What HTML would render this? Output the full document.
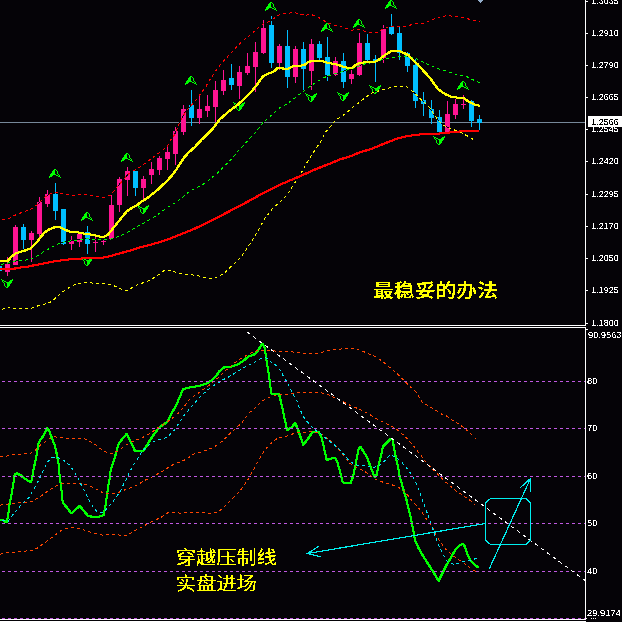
<!DOCTYPE html><html><head><meta charset="utf-8"><title>chart</title><style>
html,body{margin:0;padding:0;background:#050307;}
svg{display:block;}
.ax{font-family:"Liberation Sans",sans-serif;font-size:9.5px;fill:#fff;shape-rendering:auto;}
.cn{font-family:"Liberation Sans","Noto Sans CJK SC",sans-serif;fill:#ffff00;shape-rendering:auto;}
</style></head><body>
<svg width="622" height="622" viewBox="0 0 622 622" shape-rendering="crispEdges">
<rect x="0" y="0" width="622" height="622" fill="#050307"/>
<defs><clipPath id="cm"><rect x="0" y="0" width="585" height="325"/></clipPath><clipPath id="cl"><rect x="0" y="328" width="585" height="291"/></clipPath><filter id="crisp" x="0" y="0" width="622" height="622" filterUnits="userSpaceOnUse" color-interpolation-filters="sRGB"><feComponentTransfer><feFuncA type="discrete" tableValues="0 0 1 1 1"/></feComponentTransfer></filter><filter id="gs" x="0" y="0" width="622" height="622" filterUnits="userSpaceOnUse" color-interpolation-filters="sRGB"><feComponentTransfer><feFuncA type="discrete" tableValues="0 0 1 1 1"/></feComponentTransfer></filter><filter id="crisp2" x="0" y="0" width="622" height="622" filterUnits="userSpaceOnUse" color-interpolation-filters="sRGB"><feComponentTransfer><feFuncA type="discrete" tableValues="0 1"/></feComponentTransfer></filter></defs>
<g clip-path="url(#cm)">
<rect x="0" y="122" width="585" height="1" fill="#778899"/>
<path d="M7 257h1v19h-1zM5 264h5v8h-5zM15 225h1v40h-1zM13 227h5v38h-5zM31 231h1v31h-1zM29 233h5v7h-5zM39 197h1v41h-1zM37 202h5v32h-5zM47 190h1v17h-1zM45 194h5v10h-5zM71 236h1v14h-1zM69 241h5v3h-5zM79 233h1v14h-1zM77 234h5v8h-5zM95 237h1v15h-1zM93 242h5v1h-5zM103 239h1v6h-1zM101 241h5v1h-5zM111 194h1v45h-1zM109 205h5v34h-5zM119 177h1v35h-1zM117 179h5v26h-5zM127 167h1v29h-1zM125 171h5v9h-5zM143 176h1v23h-1zM141 179h5v9h-5zM151 162h1v22h-1zM149 169h5v6h-5zM159 156h1v19h-1zM157 158h5v12h-5zM167 147h1v23h-1zM165 152h5v7h-5zM175 127h1v38h-1zM173 131h5v23h-5zM183 105h1v30h-1zM181 109h5v23h-5zM199 96h1v28h-1zM197 109h5v9h-5zM207 95h1v22h-1zM205 106h5v5h-5zM215 81h1v41h-1zM213 90h5v17h-5zM223 70h1v25h-1zM221 80h5v11h-5zM239 66h1v33h-1zM237 72h5v14h-5zM247 53h1v22h-1zM245 66h5v7h-5zM255 42h1v50h-1zM253 52h5v15h-5zM263 20h1v34h-1zM261 28h5v25h-5zM279 44h1v26h-1zM277 46h5v17h-5zM295 46h1v37h-1zM293 49h5v28h-5zM311 39h1v51h-1zM309 44h5v27h-5zM335 57h1v19h-1zM333 61h5v14h-5zM351 70h1v14h-1zM349 74h5v5h-5zM359 33h1v43h-1zM357 43h5v32h-5zM383 25h1v38h-1zM381 29h5v29h-5zM447 101h1v31h-1zM445 114h5v18h-5zM455 99h1v20h-1zM453 104h5v11h-5zM463 95h1v14h-1zM461 104h5v1h-5z" fill="#ff1493" shape-rendering="crispEdges"/>
<path d="M-1 264h1v9h-1zM-3 266h5v5h-5zM23 224h1v25h-1zM21 227h5v13h-5zM55 183h1v37h-1zM53 194h5v17h-5zM63 209h1v36h-1zM61 209h5v35h-5zM87 226h1v28h-1zM85 232h5v12h-5zM135 171h1v25h-1zM133 171h5v17h-5zM191 90h1v36h-1zM189 105h5v13h-5zM231 64h1v26h-1zM229 78h5v7h-5zM271 16h1v52h-1zM269 25h5v38h-5zM287 30h1v58h-1zM285 46h5v31h-5zM303 42h1v48h-1zM301 49h5v20h-5zM319 41h1v20h-1zM317 44h5v14h-5zM327 37h1v44h-1zM325 57h5v18h-5zM343 53h1v35h-1zM341 61h5v21h-5zM367 34h1v27h-1zM365 43h5v17h-5zM375 55h1v27h-1zM373 59h5v2h-5zM391 14h1v21h-1zM389 27h5v7h-5zM399 26h1v34h-1zM397 33h5v20h-5zM407 52h1v20h-1zM405 53h5v13h-5zM415 58h1v50h-1zM413 65h5v36h-5zM423 92h1v24h-1zM421 100h5v4h-5zM431 100h1v24h-1zM429 109h5v9h-5zM439 110h1v23h-1zM437 117h5v15h-5zM471 100h1v27h-1zM469 101h5v20h-5zM479 115h1v15h-1zM477 119h5v4h-5z" fill="#00bfff" shape-rendering="crispEdges"/>
<path d="M54 169h2v1h-2zM53 170h2v1h-2zM56 170h1v1h-1zM52 171h3v1h-3zM57 171h1v1h-1zM52 172h3v1h-3zM57 172h1v1h-1zM51 173h4v1h-4zM57 173h1v1h-1zM50 174h6v1h-6zM58 174h1v1h-1zM50 175h3v1h-3zM56 175h2v1h-2zM59 175h1v1h-1zM49 176h3v1h-3zM58 176h2v1h-2zM49 177h1v1h-1zM60 177h1v1h-1zM86 212h2v1h-2zM85 213h2v1h-2zM88 213h1v1h-1zM84 214h3v1h-3zM89 214h1v1h-1zM84 215h3v1h-3zM89 215h1v1h-1zM83 216h4v1h-4zM89 216h1v1h-1zM82 217h6v1h-6zM90 217h1v1h-1zM82 218h3v1h-3zM88 218h2v1h-2zM91 218h1v1h-1zM81 219h3v1h-3zM90 219h2v1h-2zM81 220h1v1h-1zM92 220h1v1h-1zM126 153h2v1h-2zM125 154h2v1h-2zM128 154h1v1h-1zM124 155h3v1h-3zM129 155h1v1h-1zM124 156h3v1h-3zM129 156h1v1h-1zM123 157h4v1h-4zM129 157h1v1h-1zM122 158h6v1h-6zM130 158h1v1h-1zM122 159h3v1h-3zM128 159h2v1h-2zM131 159h1v1h-1zM121 160h3v1h-3zM130 160h2v1h-2zM121 161h1v1h-1zM132 161h1v1h-1zM190 76h2v1h-2zM189 77h2v1h-2zM192 77h1v1h-1zM188 78h3v1h-3zM193 78h1v1h-1zM188 79h3v1h-3zM193 79h1v1h-1zM187 80h4v1h-4zM193 80h1v1h-1zM186 81h6v1h-6zM194 81h1v1h-1zM186 82h3v1h-3zM192 82h2v1h-2zM195 82h1v1h-1zM185 83h3v1h-3zM194 83h2v1h-2zM185 84h1v1h-1zM196 84h1v1h-1zM270 2h2v1h-2zM269 3h2v1h-2zM272 3h1v1h-1zM268 4h3v1h-3zM273 4h1v1h-1zM268 5h3v1h-3zM273 5h1v1h-1zM267 6h4v1h-4zM273 6h1v1h-1zM266 7h6v1h-6zM274 7h1v1h-1zM266 8h3v1h-3zM272 8h2v1h-2zM275 8h1v1h-1zM265 9h3v1h-3zM274 9h2v1h-2zM265 10h1v1h-1zM276 10h1v1h-1zM326 23h2v1h-2zM325 24h2v1h-2zM328 24h1v1h-1zM324 25h3v1h-3zM329 25h1v1h-1zM324 26h3v1h-3zM329 26h1v1h-1zM323 27h4v1h-4zM329 27h1v1h-1zM322 28h6v1h-6zM330 28h1v1h-1zM322 29h3v1h-3zM328 29h2v1h-2zM331 29h1v1h-1zM321 30h3v1h-3zM330 30h2v1h-2zM321 31h1v1h-1zM332 31h1v1h-1zM358 19h2v1h-2zM357 20h2v1h-2zM360 20h1v1h-1zM356 21h3v1h-3zM361 21h1v1h-1zM356 22h3v1h-3zM361 22h1v1h-1zM355 23h4v1h-4zM361 23h1v1h-1zM354 24h6v1h-6zM362 24h1v1h-1zM354 25h3v1h-3zM360 25h2v1h-2zM363 25h1v1h-1zM353 26h3v1h-3zM362 26h2v1h-2zM353 27h1v1h-1zM364 27h1v1h-1zM390 0h2v1h-2zM389 1h2v1h-2zM392 1h1v1h-1zM388 2h3v1h-3zM393 2h1v1h-1zM388 3h3v1h-3zM393 3h1v1h-1zM387 4h4v1h-4zM393 4h1v1h-1zM386 5h6v1h-6zM394 5h1v1h-1zM386 6h3v1h-3zM392 6h2v1h-2zM395 6h1v1h-1zM385 7h3v1h-3zM394 7h2v1h-2zM385 8h1v1h-1zM396 8h1v1h-1zM462 81h2v1h-2zM461 82h2v1h-2zM464 82h1v1h-1zM460 83h3v1h-3zM465 83h1v1h-1zM460 84h3v1h-3zM465 84h1v1h-1zM459 85h4v1h-4zM465 85h1v1h-1zM458 86h6v1h-6zM466 86h1v1h-1zM458 87h3v1h-3zM464 87h2v1h-2zM467 87h1v1h-1zM457 88h3v1h-3zM466 88h2v1h-2zM457 89h1v1h-1zM468 89h1v1h-1zM6 287h2v1h-2zM7 286h2v1h-2zM5 286h1v1h-1zM7 285h3v1h-3zM4 285h1v1h-1zM7 284h3v1h-3zM4 284h1v1h-1zM7 283h4v1h-4zM4 283h1v1h-1zM6 282h6v1h-6zM3 282h1v1h-1zM9 281h3v1h-3zM4 281h2v1h-2zM2 281h1v1h-1zM10 280h3v1h-3zM2 280h2v1h-2zM12 279h1v1h-1zM1 279h1v1h-1zM86 265h2v1h-2zM87 264h2v1h-2zM85 264h1v1h-1zM87 263h3v1h-3zM84 263h1v1h-1zM87 262h3v1h-3zM84 262h1v1h-1zM87 261h4v1h-4zM84 261h1v1h-1zM86 260h6v1h-6zM83 260h1v1h-1zM89 259h3v1h-3zM84 259h2v1h-2zM82 259h1v1h-1zM90 258h3v1h-3zM82 258h2v1h-2zM92 257h1v1h-1zM81 257h1v1h-1zM142 213h2v1h-2zM143 212h2v1h-2zM141 212h1v1h-1zM143 211h3v1h-3zM140 211h1v1h-1zM143 210h3v1h-3zM140 210h1v1h-1zM143 209h4v1h-4zM140 209h1v1h-1zM142 208h6v1h-6zM139 208h1v1h-1zM145 207h3v1h-3zM140 207h2v1h-2zM138 207h1v1h-1zM146 206h3v1h-3zM138 206h2v1h-2zM148 205h1v1h-1zM137 205h1v1h-1zM238 110h2v1h-2zM239 109h2v1h-2zM237 109h1v1h-1zM239 108h3v1h-3zM236 108h1v1h-1zM239 107h3v1h-3zM236 107h1v1h-1zM239 106h4v1h-4zM236 106h1v1h-1zM238 105h6v1h-6zM235 105h1v1h-1zM241 104h3v1h-3zM236 104h2v1h-2zM234 104h1v1h-1zM242 103h3v1h-3zM234 103h2v1h-2zM244 102h1v1h-1zM233 102h1v1h-1zM310 101h2v1h-2zM311 100h2v1h-2zM309 100h1v1h-1zM311 99h3v1h-3zM308 99h1v1h-1zM311 98h3v1h-3zM308 98h1v1h-1zM311 97h4v1h-4zM308 97h1v1h-1zM310 96h6v1h-6zM307 96h1v1h-1zM313 95h3v1h-3zM308 95h2v1h-2zM306 95h1v1h-1zM314 94h3v1h-3zM306 94h2v1h-2zM316 93h1v1h-1zM305 93h1v1h-1zM342 100h2v1h-2zM343 99h2v1h-2zM341 99h1v1h-1zM343 98h3v1h-3zM340 98h1v1h-1zM343 97h3v1h-3zM340 97h1v1h-1zM343 96h4v1h-4zM340 96h1v1h-1zM342 95h6v1h-6zM339 95h1v1h-1zM345 94h3v1h-3zM340 94h2v1h-2zM338 94h1v1h-1zM346 93h3v1h-3zM338 93h2v1h-2zM348 92h1v1h-1zM337 92h1v1h-1zM374 93h2v1h-2zM375 92h2v1h-2zM373 92h1v1h-1zM375 91h3v1h-3zM372 91h1v1h-1zM375 90h3v1h-3zM372 90h1v1h-1zM375 89h4v1h-4zM372 89h1v1h-1zM374 88h6v1h-6zM371 88h1v1h-1zM377 87h3v1h-3zM372 87h2v1h-2zM370 87h1v1h-1zM378 86h3v1h-3zM370 86h2v1h-2zM380 85h1v1h-1zM369 85h1v1h-1zM438 144h2v1h-2zM439 143h2v1h-2zM437 143h1v1h-1zM439 142h3v1h-3zM436 142h1v1h-1zM439 141h3v1h-3zM436 141h1v1h-1zM439 140h4v1h-4zM436 140h1v1h-1zM438 139h6v1h-6zM435 139h1v1h-1zM441 138h3v1h-3zM436 138h2v1h-2zM434 138h1v1h-1zM442 137h3v1h-3zM434 137h2v1h-2zM444 136h1v1h-1zM433 136h1v1h-1z" fill="#00ff00" shape-rendering="crispEdges"/>
<polyline points="2.4,219.4 9.0,218.5 15.4,215.0 21.2,212.7 27.0,210.8 33.2,207.8 38.6,203.7 43.7,198.0 50.2,193.7 56.6,192.4 63.0,194.0 68.8,195.0 74.6,195.0 79.0,194.5 85.2,194.8 92.0,195.6 98.4,196.9 104.1,197.5 110.6,195.0 115.0,189.8 119.6,184.0 124.0,178.9 128.6,173.7 135.0,169.9 141.4,166.0 147.2,161.9 152.6,157.6 160.3,151.8 166.7,147.3 170.0,141.0 174.4,135.0 179.3,123.0 185.7,111.4 192.2,104.4 197.3,98.6 201.2,92.8 205.7,87.0 208.9,81.2 212.7,75.4 216.6,69.6 221.7,63.2 231.3,52.7 238.4,45.0 244.0,40.0 250.0,35.0 256.0,30.0 262.0,24.4 268.6,21.9 274.4,18.0 280.0,14.4 286.6,13.4 293.0,12.6 298.8,13.4 304.6,15.4 310.3,14.4 316.0,16.0 321.9,19.3 327.7,23.0 334.0,25.0 340.0,26.4 346.3,28.3 352.0,30.2 358.5,29.3 364.3,31.1 370.0,32.4 376.5,32.8 382.9,29.0 388.6,27.0 394.4,26.4 400.2,26.4 406.0,26.4 412.4,24.4 418.2,23.4 424.7,23.4 430.5,20.3 436.2,18.3 442.0,16.5 447.8,15.4 453.6,16.4 460.4,17.4 466.5,18.3 472.4,20.4 480.0,21.6" fill="none" stroke="#050307" stroke-width="1"/>
<polyline points="2.4,219.4 9.0,218.5 15.4,215.0 21.2,212.7 27.0,210.8 33.2,207.8 38.6,203.7 43.7,198.0 50.2,193.7 56.6,192.4 63.0,194.0 68.8,195.0 74.6,195.0 79.0,194.5 85.2,194.8 92.0,195.6 98.4,196.9 104.1,197.5 110.6,195.0 115.0,189.8 119.6,184.0 124.0,178.9 128.6,173.7 135.0,169.9 141.4,166.0 147.2,161.9 152.6,157.6 160.3,151.8 166.7,147.3 170.0,141.0 174.4,135.0 179.3,123.0 185.7,111.4 192.2,104.4 197.3,98.6 201.2,92.8 205.7,87.0 208.9,81.2 212.7,75.4 216.6,69.6 221.7,63.2 231.3,52.7 238.4,45.0 244.0,40.0 250.0,35.0 256.0,30.0 262.0,24.4 268.6,21.9 274.4,18.0 280.0,14.4 286.6,13.4 293.0,12.6 298.8,13.4 304.6,15.4 310.3,14.4 316.0,16.0 321.9,19.3 327.7,23.0 334.0,25.0 340.0,26.4 346.3,28.3 352.0,30.2 358.5,29.3 364.3,31.1 370.0,32.4 376.5,32.8 382.9,29.0 388.6,27.0 394.4,26.4 400.2,26.4 406.0,26.4 412.4,24.4 418.2,23.4 424.7,23.4 430.5,20.3 436.2,18.3 442.0,16.5 447.8,15.4 453.6,16.4 460.4,17.4 466.5,18.3 472.4,20.4 480.0,21.6" fill="none" stroke="#ff0000" stroke-width="1" stroke-dasharray="3 3"/>
<polyline points="1.9,309.5 8.4,307.0 14.1,308.2 20.6,308.2 26.4,308.2 32.2,308.0 38.6,305.6 44.4,304.3 50.2,302.4 56.6,297.2 62.4,292.0 68.2,288.2 74.0,285.0 80.0,283.3 86.4,282.4 92.2,283.0 98.0,283.3 104.4,283.7 110.2,284.3 116.7,286.9 122.4,289.5 128.2,290.5 134.0,286.2 140.5,283.7 146.2,281.7 152.0,279.0 157.8,275.3 164.0,270.7 170.5,270.4 176.0,272.3 182.5,274.0 189.0,274.3 194.6,275.2 201.0,276.4 206.6,278.0 213.0,279.1 218.7,276.4 224.3,273.2 230.0,267.5 236.4,261.9 241.2,256.6 245.2,251.1 249.2,245.0 253.2,238.6 257.3,232.2 264.5,218.9 268.5,214.0 272.5,208.4 278.1,203.6 283.8,198.8 288.6,192.3 292.6,186.2 296.6,180.3 300.6,173.9 303.9,168.2 307.0,162.6 311.0,156.2 315.1,149.7 319.1,144.1 322.3,138.5 325.7,132.0 330.2,126.9 335.4,120.5 341.2,116.6 347.6,112.0 353.4,106.6 359.2,102.4 365.6,97.3 371.4,93.2 377.0,91.5 385.0,89.0 392.0,87.2 400.0,86.4 407.0,87.0 412.9,91.5 418.6,97.3 425.0,103.0 430.2,108.4 434.4,115.2 438.6,120.7 443.6,125.0 449.5,128.4 456.0,130.5 462.6,133.4 468.1,136.4 474.4,140.1 476.5,141.4" fill="none" stroke="#050307" stroke-width="1"/>
<polyline points="1.9,309.5 8.4,307.0 14.1,308.2 20.6,308.2 26.4,308.2 32.2,308.0 38.6,305.6 44.4,304.3 50.2,302.4 56.6,297.2 62.4,292.0 68.2,288.2 74.0,285.0 80.0,283.3 86.4,282.4 92.2,283.0 98.0,283.3 104.4,283.7 110.2,284.3 116.7,286.9 122.4,289.5 128.2,290.5 134.0,286.2 140.5,283.7 146.2,281.7 152.0,279.0 157.8,275.3 164.0,270.7 170.5,270.4 176.0,272.3 182.5,274.0 189.0,274.3 194.6,275.2 201.0,276.4 206.6,278.0 213.0,279.1 218.7,276.4 224.3,273.2 230.0,267.5 236.4,261.9 241.2,256.6 245.2,251.1 249.2,245.0 253.2,238.6 257.3,232.2 264.5,218.9 268.5,214.0 272.5,208.4 278.1,203.6 283.8,198.8 288.6,192.3 292.6,186.2 296.6,180.3 300.6,173.9 303.9,168.2 307.0,162.6 311.0,156.2 315.1,149.7 319.1,144.1 322.3,138.5 325.7,132.0 330.2,126.9 335.4,120.5 341.2,116.6 347.6,112.0 353.4,106.6 359.2,102.4 365.6,97.3 371.4,93.2 377.0,91.5 385.0,89.0 392.0,87.2 400.0,86.4 407.0,87.0 412.9,91.5 418.6,97.3 425.0,103.0 430.2,108.4 434.4,115.2 438.6,120.7 443.6,125.0 449.5,128.4 456.0,130.5 462.6,133.4 468.1,136.4 474.4,140.1 476.5,141.4" fill="none" stroke="#ffff00" stroke-width="1" stroke-dasharray="3 3"/>
<polyline points="1.3,264.4 8.4,263.0 14.1,261.2 20.6,260.3 26.4,260.0 32.2,258.6 38.0,255.4 44.4,251.3 50.2,248.0 55.9,245.0 62.4,242.3 67.5,241.3 74.6,240.6 80.0,239.3 86.4,238.6 91.6,239.3 98.0,239.5 104.4,240.0 110.2,239.3 116.7,237.0 122.4,234.8 128.2,231.8 134.0,228.4 140.9,224.6 146.7,221.4 152.4,218.2 158.2,214.3 164.0,209.8 170.3,205.7 176.0,202.4 182.5,197.3 188.3,192.2 194.7,188.6 200.5,185.7 206.3,182.5 212.0,177.4 218.5,172.2 224.3,166.4 230.0,160.6 240.0,149.0 251.0,137.0 257.0,130.7 262.0,123.7 267.3,118.5 273.7,113.4 279.5,108.0 285.3,105.0 291.0,100.9 297.5,95.8 303.3,91.5 309.0,87.0 315.4,82.9 321.2,79.0 327.7,76.0 334.0,74.0 339.9,72.5 345.7,70.5 351.4,68.8 356.6,66.9 363.0,64.3 369.5,63.0 375.0,62.0 384.0,59.0 389.3,58.1 394.4,57.2 400.2,56.6 406.0,56.6 411.8,57.2 417.6,59.2 423.4,62.4 429.2,65.0 435.6,67.5 441.4,70.0 447.2,71.3 453.5,73.6 459.3,74.9 465.6,76.0 471.3,79.0 477.6,81.8 480.0,82.5" fill="none" stroke="#050307" stroke-width="1"/>
<polyline points="1.3,264.4 8.4,263.0 14.1,261.2 20.6,260.3 26.4,260.0 32.2,258.6 38.0,255.4 44.4,251.3 50.2,248.0 55.9,245.0 62.4,242.3 67.5,241.3 74.6,240.6 80.0,239.3 86.4,238.6 91.6,239.3 98.0,239.5 104.4,240.0 110.2,239.3 116.7,237.0 122.4,234.8 128.2,231.8 134.0,228.4 140.9,224.6 146.7,221.4 152.4,218.2 158.2,214.3 164.0,209.8 170.3,205.7 176.0,202.4 182.5,197.3 188.3,192.2 194.7,188.6 200.5,185.7 206.3,182.5 212.0,177.4 218.5,172.2 224.3,166.4 230.0,160.6 240.0,149.0 251.0,137.0 257.0,130.7 262.0,123.7 267.3,118.5 273.7,113.4 279.5,108.0 285.3,105.0 291.0,100.9 297.5,95.8 303.3,91.5 309.0,87.0 315.4,82.9 321.2,79.0 327.7,76.0 334.0,74.0 339.9,72.5 345.7,70.5 351.4,68.8 356.6,66.9 363.0,64.3 369.5,63.0 375.0,62.0 384.0,59.0 389.3,58.1 394.4,57.2 400.2,56.6 406.0,56.6 411.8,57.2 417.6,59.2 423.4,62.4 429.2,65.0 435.6,67.5 441.4,70.0 447.2,71.3 453.5,73.6 459.3,74.9 465.6,76.0 471.3,79.0 477.6,81.8 480.0,82.5" fill="none" stroke="#00ff00" stroke-width="1" stroke-dasharray="3 3"/>
<g fill="none" stroke="#ff0000" stroke-width="1" stroke-linejoin="round"><polyline transform="translate(-0.5,-0.5)" points="0.0,269.0 14.0,269.0 16.0,268.0 25.7,267.0 32.0,265.7 38.6,264.4 46.3,262.9 55.3,261.2 64.3,260.0 72.0,259.0 80.0,258.6 87.7,258.0 103.0,257.6 110.9,256.0 118.6,253.7 128.9,250.9 139.2,247.7 149.5,245.0 160.0,242.0 167.7,239.5 176.0,236.2 192.2,229.8 208.2,222.2 224.3,213.9 240.4,205.6 250.0,200.4 262.9,193.2 279.0,185.1 298.2,177.0 314.3,169.8 330.4,163.4 340.0,159.4 349.6,156.6 359.3,152.6 372.2,148.6 381.8,144.6 396.3,138.9 407.5,136.0 420.4,134.4 430.0,133.8 440.0,133.5 447.6,132.7 457.9,131.8 464.0,130.7 479.7,130.5"/><polyline transform="translate(0.5,-0.5)" points="0.0,269.0 14.0,269.0 16.0,268.0 25.7,267.0 32.0,265.7 38.6,264.4 46.3,262.9 55.3,261.2 64.3,260.0 72.0,259.0 80.0,258.6 87.7,258.0 103.0,257.6 110.9,256.0 118.6,253.7 128.9,250.9 139.2,247.7 149.5,245.0 160.0,242.0 167.7,239.5 176.0,236.2 192.2,229.8 208.2,222.2 224.3,213.9 240.4,205.6 250.0,200.4 262.9,193.2 279.0,185.1 298.2,177.0 314.3,169.8 330.4,163.4 340.0,159.4 349.6,156.6 359.3,152.6 372.2,148.6 381.8,144.6 396.3,138.9 407.5,136.0 420.4,134.4 430.0,133.8 440.0,133.5 447.6,132.7 457.9,131.8 464.0,130.7 479.7,130.5"/><polyline transform="translate(-0.5,0.5)" points="0.0,269.0 14.0,269.0 16.0,268.0 25.7,267.0 32.0,265.7 38.6,264.4 46.3,262.9 55.3,261.2 64.3,260.0 72.0,259.0 80.0,258.6 87.7,258.0 103.0,257.6 110.9,256.0 118.6,253.7 128.9,250.9 139.2,247.7 149.5,245.0 160.0,242.0 167.7,239.5 176.0,236.2 192.2,229.8 208.2,222.2 224.3,213.9 240.4,205.6 250.0,200.4 262.9,193.2 279.0,185.1 298.2,177.0 314.3,169.8 330.4,163.4 340.0,159.4 349.6,156.6 359.3,152.6 372.2,148.6 381.8,144.6 396.3,138.9 407.5,136.0 420.4,134.4 430.0,133.8 440.0,133.5 447.6,132.7 457.9,131.8 464.0,130.7 479.7,130.5"/><polyline transform="translate(0.5,0.5)" points="0.0,269.0 14.0,269.0 16.0,268.0 25.7,267.0 32.0,265.7 38.6,264.4 46.3,262.9 55.3,261.2 64.3,260.0 72.0,259.0 80.0,258.6 87.7,258.0 103.0,257.6 110.9,256.0 118.6,253.7 128.9,250.9 139.2,247.7 149.5,245.0 160.0,242.0 167.7,239.5 176.0,236.2 192.2,229.8 208.2,222.2 224.3,213.9 240.4,205.6 250.0,200.4 262.9,193.2 279.0,185.1 298.2,177.0 314.3,169.8 330.4,163.4 340.0,159.4 349.6,156.6 359.3,152.6 372.2,148.6 381.8,144.6 396.3,138.9 407.5,136.0 420.4,134.4 430.0,133.8 440.0,133.5 447.6,132.7 457.9,131.8 464.0,130.7 479.7,130.5"/></g>
<g fill="none" stroke="#ffff00" stroke-width="1" stroke-linejoin="round"><polyline transform="translate(-0.5,-0.5)" points="0.0,260.6 8.0,260.6 11.0,257.2 15.4,253.5 20.6,251.8 25.7,250.3 30.9,248.4 34.7,244.5 38.6,240.0 43.7,233.3 48.9,229.5 55.3,227.0 60.4,227.5 65.6,230.0 70.7,231.8 77.2,232.2 80.0,233.0 87.7,234.1 95.4,235.4 103.0,237.5 107.7,235.0 111.3,230.5 116.4,224.2 121.6,217.5 126.7,211.5 131.9,207.9 137.0,205.3 140.9,202.1 146.0,198.9 151.2,195.0 156.3,191.0 161.4,186.0 166.6,181.5 171.1,176.4 175.6,170.6 180.1,163.5 184.0,157.7 188.5,152.6 195.0,146.8 201.2,140.1 211.7,130.0 219.5,119.6 229.5,110.8 236.4,105.8 242.9,100.0 250.6,92.7 257.0,84.6 262.8,76.5 268.6,73.5 273.7,71.6 277.6,68.0 281.4,67.7 284.0,69.0 289.0,68.4 294.3,65.8 304.0,65.4 308.5,62.0 311.6,61.0 316.7,60.5 321.9,61.0 327.7,63.0 333.4,63.7 338.6,65.0 343.7,66.9 349.5,68.2 352.7,67.5 357.2,63.7 364.3,62.4 369.5,61.7 374.6,61.8 378.5,60.0 385.4,54.8 390.6,51.4 395.7,50.8 400.2,51.4 404.7,53.4 408.6,55.3 412.4,59.2 417.6,64.3 424.0,71.4 430.5,78.5 437.3,88.3 441.2,91.5 446.3,94.7 451.4,96.7 456.6,97.6 463.0,97.6 466.9,100.5 471.4,103.0 475.9,105.0 479.7,105.7"/><polyline transform="translate(0.5,-0.5)" points="0.0,260.6 8.0,260.6 11.0,257.2 15.4,253.5 20.6,251.8 25.7,250.3 30.9,248.4 34.7,244.5 38.6,240.0 43.7,233.3 48.9,229.5 55.3,227.0 60.4,227.5 65.6,230.0 70.7,231.8 77.2,232.2 80.0,233.0 87.7,234.1 95.4,235.4 103.0,237.5 107.7,235.0 111.3,230.5 116.4,224.2 121.6,217.5 126.7,211.5 131.9,207.9 137.0,205.3 140.9,202.1 146.0,198.9 151.2,195.0 156.3,191.0 161.4,186.0 166.6,181.5 171.1,176.4 175.6,170.6 180.1,163.5 184.0,157.7 188.5,152.6 195.0,146.8 201.2,140.1 211.7,130.0 219.5,119.6 229.5,110.8 236.4,105.8 242.9,100.0 250.6,92.7 257.0,84.6 262.8,76.5 268.6,73.5 273.7,71.6 277.6,68.0 281.4,67.7 284.0,69.0 289.0,68.4 294.3,65.8 304.0,65.4 308.5,62.0 311.6,61.0 316.7,60.5 321.9,61.0 327.7,63.0 333.4,63.7 338.6,65.0 343.7,66.9 349.5,68.2 352.7,67.5 357.2,63.7 364.3,62.4 369.5,61.7 374.6,61.8 378.5,60.0 385.4,54.8 390.6,51.4 395.7,50.8 400.2,51.4 404.7,53.4 408.6,55.3 412.4,59.2 417.6,64.3 424.0,71.4 430.5,78.5 437.3,88.3 441.2,91.5 446.3,94.7 451.4,96.7 456.6,97.6 463.0,97.6 466.9,100.5 471.4,103.0 475.9,105.0 479.7,105.7"/><polyline transform="translate(-0.5,0.5)" points="0.0,260.6 8.0,260.6 11.0,257.2 15.4,253.5 20.6,251.8 25.7,250.3 30.9,248.4 34.7,244.5 38.6,240.0 43.7,233.3 48.9,229.5 55.3,227.0 60.4,227.5 65.6,230.0 70.7,231.8 77.2,232.2 80.0,233.0 87.7,234.1 95.4,235.4 103.0,237.5 107.7,235.0 111.3,230.5 116.4,224.2 121.6,217.5 126.7,211.5 131.9,207.9 137.0,205.3 140.9,202.1 146.0,198.9 151.2,195.0 156.3,191.0 161.4,186.0 166.6,181.5 171.1,176.4 175.6,170.6 180.1,163.5 184.0,157.7 188.5,152.6 195.0,146.8 201.2,140.1 211.7,130.0 219.5,119.6 229.5,110.8 236.4,105.8 242.9,100.0 250.6,92.7 257.0,84.6 262.8,76.5 268.6,73.5 273.7,71.6 277.6,68.0 281.4,67.7 284.0,69.0 289.0,68.4 294.3,65.8 304.0,65.4 308.5,62.0 311.6,61.0 316.7,60.5 321.9,61.0 327.7,63.0 333.4,63.7 338.6,65.0 343.7,66.9 349.5,68.2 352.7,67.5 357.2,63.7 364.3,62.4 369.5,61.7 374.6,61.8 378.5,60.0 385.4,54.8 390.6,51.4 395.7,50.8 400.2,51.4 404.7,53.4 408.6,55.3 412.4,59.2 417.6,64.3 424.0,71.4 430.5,78.5 437.3,88.3 441.2,91.5 446.3,94.7 451.4,96.7 456.6,97.6 463.0,97.6 466.9,100.5 471.4,103.0 475.9,105.0 479.7,105.7"/><polyline transform="translate(0.5,0.5)" points="0.0,260.6 8.0,260.6 11.0,257.2 15.4,253.5 20.6,251.8 25.7,250.3 30.9,248.4 34.7,244.5 38.6,240.0 43.7,233.3 48.9,229.5 55.3,227.0 60.4,227.5 65.6,230.0 70.7,231.8 77.2,232.2 80.0,233.0 87.7,234.1 95.4,235.4 103.0,237.5 107.7,235.0 111.3,230.5 116.4,224.2 121.6,217.5 126.7,211.5 131.9,207.9 137.0,205.3 140.9,202.1 146.0,198.9 151.2,195.0 156.3,191.0 161.4,186.0 166.6,181.5 171.1,176.4 175.6,170.6 180.1,163.5 184.0,157.7 188.5,152.6 195.0,146.8 201.2,140.1 211.7,130.0 219.5,119.6 229.5,110.8 236.4,105.8 242.9,100.0 250.6,92.7 257.0,84.6 262.8,76.5 268.6,73.5 273.7,71.6 277.6,68.0 281.4,67.7 284.0,69.0 289.0,68.4 294.3,65.8 304.0,65.4 308.5,62.0 311.6,61.0 316.7,60.5 321.9,61.0 327.7,63.0 333.4,63.7 338.6,65.0 343.7,66.9 349.5,68.2 352.7,67.5 357.2,63.7 364.3,62.4 369.5,61.7 374.6,61.8 378.5,60.0 385.4,54.8 390.6,51.4 395.7,50.8 400.2,51.4 404.7,53.4 408.6,55.3 412.4,59.2 417.6,64.3 424.0,71.4 430.5,78.5 437.3,88.3 441.2,91.5 446.3,94.7 451.4,96.7 456.6,97.6 463.0,97.6 466.9,100.5 471.4,103.0 475.9,105.0 479.7,105.7"/></g>
<polygon points="478,0 483.5,0 480.7,3.2" fill="#94aecb"/>
</g>
<g clip-path="url(#cl)">
<g fill="none" stroke="#00ff00" stroke-width="1" stroke-linejoin="round"><polyline transform="translate(-0.5,-0.5)" points="0.0,519.4 3.2,520.2 6.4,522.6 8.0,517.0 9.6,504.0 11.3,496.0 12.9,486.4 14.8,474.0 16.7,473.4 20.6,475.3 25.7,479.2 30.9,482.4 32.2,479.2 32.8,472.7 35.4,461.0 37.9,447.7 38.6,442.5 43.7,435.4 46.9,428.4 48.9,430.3 51.4,436.7 55.3,447.0 56.6,453.4 58.5,463.7 59.8,477.9 61.1,486.4 62.7,502.5 66.7,507.3 71.5,513.8 79.6,505.7 87.6,515.4 91.6,516.7 94.8,517.0 99.6,516.6 103.7,515.0 105.3,507.0 106.9,495.7 108.5,484.5 110.1,476.4 110.6,470.7 114.7,457.9 117.0,449.8 118.7,443.4 126.7,433.8 130.7,441.8 134.8,450.6 141.2,451.1 143.6,450.6 150.0,440.2 154.9,433.0 159.7,427.0 164.5,423.9 167.7,421.4 171.7,413.4 176.5,404.6 183.0,389.3 187.0,388.0 192.6,386.9 199.0,386.1 203.0,384.8 207.9,382.9 211.9,380.0 215.9,376.4 219.6,371.0 224.5,367.0 229.3,367.0 234.1,365.7 238.9,363.8 243.8,360.5 248.6,356.5 253.4,354.9 256.6,352.5 259.8,347.7 262.5,343.5 264.7,347.7 266.3,358.9 268.7,373.4 270.3,385.5 271.1,393.5 277.5,394.0 279.1,394.3 280.7,400.7 283.2,412.0 285.6,423.2 287.2,430.0 291.3,427.7 295.3,422.9 298.5,430.9 300.9,438.1 303.3,444.6 307.3,439.7 312.2,432.5 318.6,431.7 321.0,435.7 323.4,445.4 326.6,459.8 330.6,459.0 334.7,457.4 337.1,461.4 339.5,469.5 342.7,482.3 346.7,483.2 350.7,483.2 353.2,475.9 355.6,464.7 358.8,447.8 360.4,447.0 363.6,451.8 366.8,456.6 369.2,463.1 371.6,469.5 374.8,477.2 376.4,475.6 378.8,464.3 381.3,454.7 382.9,446.6 386.9,442.6 390.9,438.6 392.5,439.4 394.1,448.2 395.7,456.3 398.1,467.5 399.7,476.4 402.2,485.2 404.6,494.0 406.4,499.6 409.6,512.5 412.9,528.6 415.3,541.4 419.3,549.5 424.1,557.5 429.7,566.4 433.8,572.8 438.6,580.8 442.6,572.8 446.6,564.8 451.4,556.7 455.5,549.5 459.5,545.5 462.7,543.9 464.3,545.5 467.5,554.3 470.7,560.7 474.8,564.8 478.8,568.0"/><polyline transform="translate(0.5,-0.5)" points="0.0,519.4 3.2,520.2 6.4,522.6 8.0,517.0 9.6,504.0 11.3,496.0 12.9,486.4 14.8,474.0 16.7,473.4 20.6,475.3 25.7,479.2 30.9,482.4 32.2,479.2 32.8,472.7 35.4,461.0 37.9,447.7 38.6,442.5 43.7,435.4 46.9,428.4 48.9,430.3 51.4,436.7 55.3,447.0 56.6,453.4 58.5,463.7 59.8,477.9 61.1,486.4 62.7,502.5 66.7,507.3 71.5,513.8 79.6,505.7 87.6,515.4 91.6,516.7 94.8,517.0 99.6,516.6 103.7,515.0 105.3,507.0 106.9,495.7 108.5,484.5 110.1,476.4 110.6,470.7 114.7,457.9 117.0,449.8 118.7,443.4 126.7,433.8 130.7,441.8 134.8,450.6 141.2,451.1 143.6,450.6 150.0,440.2 154.9,433.0 159.7,427.0 164.5,423.9 167.7,421.4 171.7,413.4 176.5,404.6 183.0,389.3 187.0,388.0 192.6,386.9 199.0,386.1 203.0,384.8 207.9,382.9 211.9,380.0 215.9,376.4 219.6,371.0 224.5,367.0 229.3,367.0 234.1,365.7 238.9,363.8 243.8,360.5 248.6,356.5 253.4,354.9 256.6,352.5 259.8,347.7 262.5,343.5 264.7,347.7 266.3,358.9 268.7,373.4 270.3,385.5 271.1,393.5 277.5,394.0 279.1,394.3 280.7,400.7 283.2,412.0 285.6,423.2 287.2,430.0 291.3,427.7 295.3,422.9 298.5,430.9 300.9,438.1 303.3,444.6 307.3,439.7 312.2,432.5 318.6,431.7 321.0,435.7 323.4,445.4 326.6,459.8 330.6,459.0 334.7,457.4 337.1,461.4 339.5,469.5 342.7,482.3 346.7,483.2 350.7,483.2 353.2,475.9 355.6,464.7 358.8,447.8 360.4,447.0 363.6,451.8 366.8,456.6 369.2,463.1 371.6,469.5 374.8,477.2 376.4,475.6 378.8,464.3 381.3,454.7 382.9,446.6 386.9,442.6 390.9,438.6 392.5,439.4 394.1,448.2 395.7,456.3 398.1,467.5 399.7,476.4 402.2,485.2 404.6,494.0 406.4,499.6 409.6,512.5 412.9,528.6 415.3,541.4 419.3,549.5 424.1,557.5 429.7,566.4 433.8,572.8 438.6,580.8 442.6,572.8 446.6,564.8 451.4,556.7 455.5,549.5 459.5,545.5 462.7,543.9 464.3,545.5 467.5,554.3 470.7,560.7 474.8,564.8 478.8,568.0"/><polyline transform="translate(-0.5,0.5)" points="0.0,519.4 3.2,520.2 6.4,522.6 8.0,517.0 9.6,504.0 11.3,496.0 12.9,486.4 14.8,474.0 16.7,473.4 20.6,475.3 25.7,479.2 30.9,482.4 32.2,479.2 32.8,472.7 35.4,461.0 37.9,447.7 38.6,442.5 43.7,435.4 46.9,428.4 48.9,430.3 51.4,436.7 55.3,447.0 56.6,453.4 58.5,463.7 59.8,477.9 61.1,486.4 62.7,502.5 66.7,507.3 71.5,513.8 79.6,505.7 87.6,515.4 91.6,516.7 94.8,517.0 99.6,516.6 103.7,515.0 105.3,507.0 106.9,495.7 108.5,484.5 110.1,476.4 110.6,470.7 114.7,457.9 117.0,449.8 118.7,443.4 126.7,433.8 130.7,441.8 134.8,450.6 141.2,451.1 143.6,450.6 150.0,440.2 154.9,433.0 159.7,427.0 164.5,423.9 167.7,421.4 171.7,413.4 176.5,404.6 183.0,389.3 187.0,388.0 192.6,386.9 199.0,386.1 203.0,384.8 207.9,382.9 211.9,380.0 215.9,376.4 219.6,371.0 224.5,367.0 229.3,367.0 234.1,365.7 238.9,363.8 243.8,360.5 248.6,356.5 253.4,354.9 256.6,352.5 259.8,347.7 262.5,343.5 264.7,347.7 266.3,358.9 268.7,373.4 270.3,385.5 271.1,393.5 277.5,394.0 279.1,394.3 280.7,400.7 283.2,412.0 285.6,423.2 287.2,430.0 291.3,427.7 295.3,422.9 298.5,430.9 300.9,438.1 303.3,444.6 307.3,439.7 312.2,432.5 318.6,431.7 321.0,435.7 323.4,445.4 326.6,459.8 330.6,459.0 334.7,457.4 337.1,461.4 339.5,469.5 342.7,482.3 346.7,483.2 350.7,483.2 353.2,475.9 355.6,464.7 358.8,447.8 360.4,447.0 363.6,451.8 366.8,456.6 369.2,463.1 371.6,469.5 374.8,477.2 376.4,475.6 378.8,464.3 381.3,454.7 382.9,446.6 386.9,442.6 390.9,438.6 392.5,439.4 394.1,448.2 395.7,456.3 398.1,467.5 399.7,476.4 402.2,485.2 404.6,494.0 406.4,499.6 409.6,512.5 412.9,528.6 415.3,541.4 419.3,549.5 424.1,557.5 429.7,566.4 433.8,572.8 438.6,580.8 442.6,572.8 446.6,564.8 451.4,556.7 455.5,549.5 459.5,545.5 462.7,543.9 464.3,545.5 467.5,554.3 470.7,560.7 474.8,564.8 478.8,568.0"/><polyline transform="translate(0.5,0.5)" points="0.0,519.4 3.2,520.2 6.4,522.6 8.0,517.0 9.6,504.0 11.3,496.0 12.9,486.4 14.8,474.0 16.7,473.4 20.6,475.3 25.7,479.2 30.9,482.4 32.2,479.2 32.8,472.7 35.4,461.0 37.9,447.7 38.6,442.5 43.7,435.4 46.9,428.4 48.9,430.3 51.4,436.7 55.3,447.0 56.6,453.4 58.5,463.7 59.8,477.9 61.1,486.4 62.7,502.5 66.7,507.3 71.5,513.8 79.6,505.7 87.6,515.4 91.6,516.7 94.8,517.0 99.6,516.6 103.7,515.0 105.3,507.0 106.9,495.7 108.5,484.5 110.1,476.4 110.6,470.7 114.7,457.9 117.0,449.8 118.7,443.4 126.7,433.8 130.7,441.8 134.8,450.6 141.2,451.1 143.6,450.6 150.0,440.2 154.9,433.0 159.7,427.0 164.5,423.9 167.7,421.4 171.7,413.4 176.5,404.6 183.0,389.3 187.0,388.0 192.6,386.9 199.0,386.1 203.0,384.8 207.9,382.9 211.9,380.0 215.9,376.4 219.6,371.0 224.5,367.0 229.3,367.0 234.1,365.7 238.9,363.8 243.8,360.5 248.6,356.5 253.4,354.9 256.6,352.5 259.8,347.7 262.5,343.5 264.7,347.7 266.3,358.9 268.7,373.4 270.3,385.5 271.1,393.5 277.5,394.0 279.1,394.3 280.7,400.7 283.2,412.0 285.6,423.2 287.2,430.0 291.3,427.7 295.3,422.9 298.5,430.9 300.9,438.1 303.3,444.6 307.3,439.7 312.2,432.5 318.6,431.7 321.0,435.7 323.4,445.4 326.6,459.8 330.6,459.0 334.7,457.4 337.1,461.4 339.5,469.5 342.7,482.3 346.7,483.2 350.7,483.2 353.2,475.9 355.6,464.7 358.8,447.8 360.4,447.0 363.6,451.8 366.8,456.6 369.2,463.1 371.6,469.5 374.8,477.2 376.4,475.6 378.8,464.3 381.3,454.7 382.9,446.6 386.9,442.6 390.9,438.6 392.5,439.4 394.1,448.2 395.7,456.3 398.1,467.5 399.7,476.4 402.2,485.2 404.6,494.0 406.4,499.6 409.6,512.5 412.9,528.6 415.3,541.4 419.3,549.5 424.1,557.5 429.7,566.4 433.8,572.8 438.6,580.8 442.6,572.8 446.6,564.8 451.4,556.7 455.5,549.5 459.5,545.5 462.7,543.9 464.3,545.5 467.5,554.3 470.7,560.7 474.8,564.8 478.8,568.0"/></g>
<polyline points="0.0,456.7 5.1,456.7 11.6,454.7 17.4,454.5 23.2,453.7 29.6,453.7 35.4,450.2 41.2,444.4 47.6,440.0 53.4,436.7 59.2,437.4 65.6,438.3 71.4,438.3 79.3,438.6 84.1,438.6 88.9,441.0 94.6,444.2 101.0,449.0 107.4,453.0 113.0,453.0 118.7,450.6 125.1,445.8 131.5,441.8 138.0,439.4 143.6,437.0 150.0,433.6 156.4,428.7 166.0,423.0 173.3,417.4 178.9,412.6 184.6,406.2 189.4,399.7 195.8,394.9 201.4,390.9 207.1,386.9 211.9,382.9 219.6,376.6 226.0,370.2 232.5,364.6 238.9,359.7 244.6,356.5 250.2,353.3 256.6,350.9 261.4,350.0 266.3,350.0 272.7,350.9 279.1,351.2 285.6,351.2 290.4,351.7 296.8,352.5 303.2,353.3 314.5,353.3 320.1,352.8 325.7,351.2 332.2,350.1 338.6,349.3 344.2,348.5 350.6,348.5 356.3,349.3 362.7,351.2 368.3,353.8 374.0,356.0 380.6,360.0 386.4,364.6 392.0,369.4 398.5,375.0 404.1,380.6 409.7,386.3 415.4,391.1 419.4,397.5 422.6,403.2 428.2,405.6 434.7,409.6 440.5,413.6 446.5,416.0 452.2,420.0 458.6,424.1 464.3,428.0 469.7,432.6 476.2,439.4" fill="none" stroke="#ff4500" stroke-width="1" stroke-dasharray="3 3"/>
<polyline points="0.0,505.2 8.0,504.0 14.5,503.3 20.9,502.5 26.5,502.5 33.0,500.9 38.6,497.7 44.2,493.7 49.8,489.6 55.5,486.4 61.9,483.2 67.5,483.2 74.0,483.2 80.4,483.4 85.7,484.4 91.6,486.9 98.0,490.0 104.5,493.8 110.9,494.1 116.5,493.3 122.2,490.9 128.6,488.5 135.0,486.0 140.6,482.9 146.3,479.6 151.9,477.2 157.5,474.0 163.2,470.8 170.9,465.7 176.5,463.2 183.0,460.8 188.6,457.6 194.2,453.9 200.6,452.0 206.3,450.4 212.5,447.8 218.5,444.2 224.1,439.6 229.8,433.7 237.0,427.2 242.5,422.0 246.2,416.8 250.2,412.0 254.2,408.8 259.0,404.0 263.9,399.9 268.7,397.5 274.3,395.9 280.7,394.6 287.2,394.3 293.6,393.5 300.0,392.5 306.4,392.4 313.7,392.4 319.3,392.4 324.9,393.5 331.4,395.9 337.0,399.1 342.6,401.5 349.0,404.8 354.7,407.2 360.3,409.6 366.7,412.8 372.4,416.1 378.8,420.1 385.3,423.3 390.9,425.7 397.3,429.7 403.8,435.4 409.4,441.0 414.2,446.6 419.0,453.0 423.9,459.5 429.5,465.9 434.3,470.7 439.9,476.4 445.6,482.0 451.2,486.8 456.8,491.6 463.3,495.6 469.1,499.6 474.8,504.5" fill="none" stroke="#ff4500" stroke-width="1" stroke-dasharray="3 3"/>
<polyline points="0.0,554.3 6.4,552.7 12.9,552.3 19.3,551.5 25.7,551.0 32.2,550.7 37.0,548.3 42.6,544.3 48.2,540.3 54.7,535.5 61.1,530.6 66.7,528.2 72.3,527.6 78.8,528.2 85.2,530.6 90.4,532.0 96.4,533.5 102.0,535.1 107.7,534.3 114.1,534.6 120.5,535.1 127.0,535.1 132.6,531.9 138.2,528.7 144.7,525.5 150.3,522.3 155.9,519.8 162.3,516.6 168.0,512.6 174.4,512.6 180.8,513.2 186.5,512.8 192.9,512.4 198.5,512.4 204.1,512.9 210.5,513.2 216.2,512.4 221.8,509.2 227.4,503.6 233.0,498.0 239.5,491.5 244.3,485.1 248.3,479.2 251.5,473.0 254.8,467.4 258.0,461.5 261.2,455.4 265.2,449.7 270.0,444.1 276.5,439.0 281.6,437.3 288.0,435.7 294.5,433.3 300.9,432.5 306.5,432.2 312.2,431.7 318.6,432.5 324.2,435.7 329.0,439.7 334.7,444.6 340.3,451.0 344.3,456.6 349.1,463.0 354.8,466.3 361.2,469.5 366.8,472.7 372.4,477.5 379.6,481.2 385.3,482.8 390.9,484.4 397.3,486.8 403.0,490.0 408.0,495.6 412.9,502.0 418.5,507.7 423.3,514.1 427.3,520.5 432.2,527.0 437.0,536.6 441.8,543.9 446.6,550.3 452.3,555.1 457.9,559.1 464.3,563.2 469.9,568.0 476.4,572.0" fill="none" stroke="#ff4500" stroke-width="1" stroke-dasharray="3 3"/>
<polyline points="2.4,520.2 8.0,521.8 12.9,514.6 17.7,509.0 23.3,502.5 28.9,497.7 32.2,492.0 35.4,486.2 38.6,480.4 41.8,474.0 44.4,468.2 46.9,462.4 51.4,458.0 56.6,456.7 63.0,459.9 69.5,465.0 74.0,471.4 77.8,477.9 80.4,483.2 83.6,489.6 86.8,495.3 90.0,501.7 93.2,507.3 97.2,511.8 102.9,512.6 107.7,507.8 112.5,502.2 117.3,495.7 121.3,489.3 123.8,483.7 127.0,478.0 129.4,472.4 134.0,464.3 137.2,459.5 141.2,453.0 145.2,448.2 150.0,444.2 156.4,440.0 164.5,438.3 169.3,435.1 174.1,430.3 178.9,423.0 183.0,416.6 187.8,411.0 192.6,405.4 198.2,398.9 203.9,393.3 210.3,387.7 216.4,383.9 222.9,379.8 229.3,376.6 235.7,372.6 242.2,368.6 248.6,365.4 253.4,363.0 258.2,359.7 263.9,357.3 265.5,357.3 270.3,361.4 275.1,364.6 280.7,371.0 284.0,377.4 287.2,382.3 290.4,388.7 293.6,395.1 296.8,400.7 299.2,407.2 301.6,412.8 304.8,419.2 309.7,424.5 315.4,430.1 321.0,434.1 326.6,438.9 333.0,443.8 339.5,449.4 344.3,455.0 349.1,460.6 354.8,464.7 360.4,465.5 366.8,465.5 373.2,467.9 379.6,465.1 385.3,460.3 390.1,454.7 395.7,457.1 401.4,461.9 406.2,467.5 411.0,474.0 415.0,480.4 417.4,486.8 419.8,492.4 421.7,498.0 424.1,504.5 426.5,510.9 428.9,518.1 432.2,527.0 435.4,536.6 438.6,544.7 441.8,551.9 445.0,558.3 449.0,563.2 454.7,564.3 461.1,562.3 467.5,560.7 473.2,559.5 478.8,557.5" fill="none" stroke="#00e5ee" stroke-width="1" stroke-dasharray="3 3"/>
<line x1="2" y1="381.5" x2="585" y2="381.5" stroke="#c058e0" stroke-width="1" stroke-dasharray="3 3"/>
<line x1="2" y1="428.5" x2="585" y2="428.5" stroke="#c058e0" stroke-width="1" stroke-dasharray="3 3"/>
<line x1="2" y1="476.5" x2="585" y2="476.5" stroke="#c058e0" stroke-width="1" stroke-dasharray="3 3"/>
<line x1="2" y1="523.5" x2="585" y2="523.5" stroke="#c058e0" stroke-width="1" stroke-dasharray="3 3"/>
<line x1="2" y1="571.5" x2="585" y2="571.5" stroke="#c058e0" stroke-width="1" stroke-dasharray="3 3"/>
<line x1="2" y1="618.5" x2="585" y2="618.5" stroke="#c058e0" stroke-width="1" stroke-dasharray="3 3"/>
<line x1="247" y1="332" x2="586" y2="581.2" stroke="#ffffff" stroke-width="1" stroke-dasharray="3.7 3.74"/>
<g fill="none" stroke="#00eeee" stroke-width="1.2">
<polyline points="485.5,523.5 307.5,553.5"/>
<polyline points="318.6,546.4 307.5,553.5 320.9,556.7"/>
<polygon points="490.5,498.5 526,498.5 530.5,503 530.5,540 526,544.5 490.5,544.5 485.5,540 485.5,503"/>
<polyline points="489.2,569 530.5,478.5"/>
<polyline points="520.2,487.7 530.5,478.5 530.5,492"/>
</g>
</g>
<g fill="#ffffff" shape-rendering="crispEdges">
<rect x="585" y="0" width="1" height="326"/>
<rect x="0" y="325" width="586" height="1"/>
<rect x="0" y="327" width="586" height="1"/>
<rect x="585" y="327" width="1" height="293"/>
<rect x="0" y="619" width="586" height="1"/>
<rect x="0" y="621" width="586" height="1"/>
<rect x="586" y="1" width="2" height="1"/>
<rect x="586" y="33" width="2" height="1"/>
<rect x="586" y="65" width="2" height="1"/>
<rect x="586" y="97" width="2" height="1"/>
<rect x="586" y="129" width="2" height="1"/>
<rect x="586" y="161" width="2" height="1"/>
<rect x="586" y="194" width="2" height="1"/>
<rect x="586" y="226" width="2" height="1"/>
<rect x="586" y="258" width="2" height="1"/>
<rect x="586" y="290" width="2" height="1"/>
<rect x="586" y="323" width="2" height="1"/>
<rect x="586" y="329" width="2" height="1"/>
<rect x="586" y="618" width="1" height="1"/>
</g>
<g filter="url(#crisp2)">
<text class="ax" x="591" y="4" textLength="27.75" lengthAdjust="spacing">1.3035</text>
<text class="ax" x="591" y="36" textLength="27.75" lengthAdjust="spacing">1.2910</text>
<text class="ax" x="591" y="68" textLength="27.75" lengthAdjust="spacing">1.2790</text>
<text class="ax" x="591" y="100" textLength="27.75" lengthAdjust="spacing">1.2665</text>
<text class="ax" x="591" y="132" textLength="27.75" lengthAdjust="spacing">1.2545</text>
<text class="ax" x="591" y="164" textLength="27.75" lengthAdjust="spacing">1.2420</text>
<text class="ax" x="591" y="197" textLength="27.75" lengthAdjust="spacing">1.2295</text>
<text class="ax" x="591" y="229" textLength="27.75" lengthAdjust="spacing">1.2170</text>
<text class="ax" x="591" y="261" textLength="27.75" lengthAdjust="spacing">1.2050</text>
<text class="ax" x="591" y="293" textLength="27.75" lengthAdjust="spacing">1.1925</text>
<text class="ax" x="591" y="326" textLength="27.75" lengthAdjust="spacing">1.1800</text>
<text class="ax" x="588" y="338" textLength="33.6" lengthAdjust="spacing">90.9563</text>
<text class="ax" x="587" y="384" textLength="10.6" lengthAdjust="spacing">80</text>
<text class="ax" x="587" y="431" textLength="10.6" lengthAdjust="spacing">70</text>
<text class="ax" x="587" y="479" textLength="10.6" lengthAdjust="spacing">60</text>
<text class="ax" x="587" y="526" textLength="10.6" lengthAdjust="spacing">50</text>
<text class="ax" x="587" y="574" textLength="10.6" lengthAdjust="spacing">40</text>
<text class="ax" x="587" y="616" textLength="33.9" lengthAdjust="spacing">29.9174</text>
</g>
<rect x="588" y="116" width="34" height="11" fill="#ffffff"/>
<text class="ax" x="591" y="125" textLength="27.75" lengthAdjust="spacing" style="fill:#000" filter="url(#gs)">1.2566</text>
<g fill="#ffffff"><rect x="591" y="618" width="1" height="1"/><rect x="593" y="618" width="1" height="1"/><rect x="595" y="618" width="1" height="1"/></g>
<g filter="url(#crisp)">
<text class="cn" x="373" y="297" font-size="18" font-weight="500" textLength="125" lengthAdjust="spacingAndGlyphs">最稳妥的办法</text>
<text class="cn" x="175.8" y="564" font-size="18" font-weight="400" textLength="101" lengthAdjust="spacingAndGlyphs">穿越压制线</text>
<text class="cn" x="175.8" y="590" font-size="18" font-weight="400" textLength="81" lengthAdjust="spacingAndGlyphs">实盘进场</text>
</g>
</svg></body></html>
